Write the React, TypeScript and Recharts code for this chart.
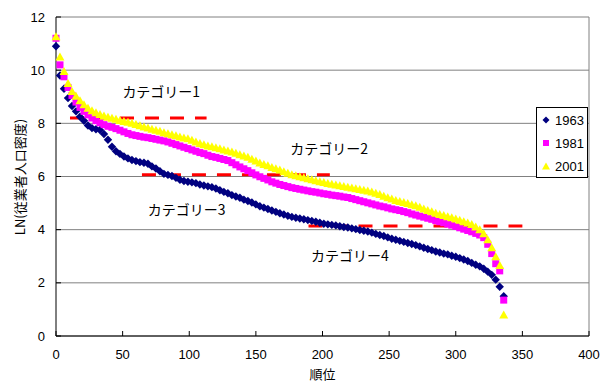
import { ScatterChart, Scatter, XAxis, YAxis, CartesianGrid, ReferenceLine, ReferenceDot, Legend, Label } from 'recharts';

// sampled every 3 ranks, starting at rank 0
const rankStep = 3;

const density1963 = [
  10.9, 9.8, 9.3, 8.95, 8.65, 8.45, 8.25, 8.1, 7.92, 7.82,
  7.78, 7.75, 7.6, 7.38, 7.12, 6.95, 6.85, 6.75, 6.68, 6.62,
  6.58, 6.54, 6.52, 6.48, 6.38, 6.3, 6.2, 6.1, 6.06, 6.02,
  5.95, 5.88, 5.83, 5.8, 5.78, 5.75, 5.7, 5.66, 5.63, 5.6,
  5.55, 5.48, 5.42, 5.37, 5.3, 5.25, 5.2, 5.13, 5.08, 5.02,
  4.95, 4.88, 4.83, 4.78, 4.72, 4.67, 4.62, 4.57, 4.52, 4.48,
  4.45, 4.42, 4.39, 4.36, 4.33, 4.3, 4.26, 4.22, 4.2, 4.18,
  4.16, 4.13, 4.1, 4.08, 4.05, 4.02, 3.99, 3.96, 3.93, 3.89,
  3.84, 3.8, 3.76, 3.71, 3.66, 3.62, 3.58, 3.54, 3.5, 3.46,
  3.42, 3.37, 3.32, 3.27, 3.23, 3.18, 3.14, 3.1, 3.07, 3.02,
  2.98, 2.93, 2.88, 2.82, 2.75, 2.68, 2.62, 2.53, 2.42, 2.3,
  2.12, 1.85, 1.5,
];

const density1981 = [
  11.2, 10.2, 9.75, 9.35, 9.05, 8.8, 8.6, 8.45, 8.32, 8.2,
  8.1, 8.02, 7.95, 7.89, 7.85, 7.8, 7.74, 7.68, 7.62, 7.57,
  7.54, 7.51, 7.48, 7.46, 7.43, 7.4, 7.37, 7.34, 7.3, 7.25,
  7.2, 7.15, 7.1, 7.05, 7.0, 6.95, 6.9, 6.86, 6.8, 6.75,
  6.72, 6.68, 6.64, 6.6, 6.52, 6.44, 6.36, 6.29, 6.22, 6.14,
  6.06, 5.99, 5.93, 5.87, 5.8, 5.75, 5.7, 5.66, 5.62, 5.58,
  5.55, 5.52, 5.49, 5.46, 5.43, 5.41, 5.38, 5.35, 5.33, 5.3,
  5.28, 5.26, 5.23, 5.21, 5.17, 5.13, 5.09, 5.05, 5.01, 4.97,
  4.93, 4.89, 4.86, 4.82, 4.78, 4.75, 4.72, 4.68, 4.64, 4.59,
  4.55, 4.51, 4.47, 4.43, 4.39, 4.34, 4.3, 4.26, 4.21, 4.17,
  4.12, 4.07, 4.02, 3.97, 3.92, 3.86, 3.8, 3.7, 3.45, 3.1,
  2.72, 2.45, 1.35,
];

const density2001 = [
  11.26, 10.5, 9.95, 9.5, 9.2, 9.02, 8.85, 8.7, 8.57, 8.47,
  8.4, 8.33, 8.28, 8.23, 8.19, 8.15, 8.11, 8.07, 8.04, 8.0,
  7.96, 7.91, 7.86, 7.82, 7.78, 7.74, 7.7, 7.65, 7.61, 7.57,
  7.53, 7.49, 7.45, 7.42, 7.36, 7.3, 7.24, 7.19, 7.15, 7.12,
  7.08, 7.04, 7.0, 6.96, 6.92, 6.87, 6.82, 6.77, 6.72, 6.65,
  6.58, 6.51, 6.45, 6.4, 6.34, 6.29, 6.24, 6.18, 6.12, 6.07,
  6.03, 5.99, 5.95, 5.92, 5.88, 5.84, 5.8, 5.77, 5.74, 5.71,
  5.68, 5.65, 5.62, 5.6, 5.57, 5.54, 5.51, 5.48, 5.45, 5.42,
  5.37, 5.32, 5.26, 5.2, 5.15, 5.1, 5.06, 5.02, 4.98, 4.94,
  4.9, 4.84, 4.78, 4.72, 4.67, 4.62, 4.57, 4.53, 4.49, 4.45,
  4.4, 4.35, 4.3, 4.25, 4.19, 4.1, 4.0, 3.85, 3.62, 3.32,
  2.98, 2.65, 0.79,
];

const xTicks = [0, 50, 100, 150, 200, 250, 300, 350, 400];
const yTicks = [0, 2, 4, 6, 8, 10, 12];

// category boundaries (red dashed lines)
const boundaryLevels = [8.2, 6.07, 4.14];
const boundaryFrom = [10.5, 64.5, 189.5];
const boundaryTo = [113, 205.5, 350];
const categoryNames = ['カテゴリー1', 'カテゴリー2', 'カテゴリー3', 'カテゴリー4'];

const toPoints = (values: number[]) => values.map((v, i) => ({ rank: i * rankStep, ln: v }));

const FONT = '"Liberation Sans", Arial, sans-serif';
const JP_FONT = '"Noto Sans CJK JP", sans-serif';

const Diamond = (props: any) => {
  const { cx, cy } = props;
  const r = 4.2;
  return <polygon points={`${cx},${cy - r} ${cx + r},${cy} ${cx},${cy + r} ${cx - r},${cy}`} fill="#000080" />;
};

const Square = (props: any) => {
  const { cx, cy } = props;
  return <rect x={cx - 3.5} y={cy - 3.5} width={7} height={7} fill="#FF00FF" />;
};

const Triangle = (props: any) => {
  const { cx, cy } = props;
  return <polygon points={`${cx},${cy - 4.5} ${cx + 4.5},${cy + 3.5} ${cx - 4.5},${cy + 3.5}`} fill="#FFFF00" />;
};

const legendIcons = [
  <polygon key="d" points="4,0.5 7.5,4 4,7.5 0.5,4" fill="#000080" />,
  <rect key="s" x={1} y={1} width={6} height={6} fill="#FF00FF" />,
  <polygon key="t" points="4,0.5 8,7.5 0,7.5" fill="#FFFF00" />,
];

const years = ['1963', '1981', '2001'];

const LegendBox = () => (
  <div
    style={{
      position: 'relative',
      width: 52,
      height: 71,
      boxSizing: 'border-box',
      border: '1px solid #000',
      background: '#fff',
      fontFamily: FONT,
      fontSize: 13,
    }}
  >
    {years.map((yr, i) => (
      <div key={yr} style={{ position: 'absolute', left: 5, top: 4 + i * 23, height: 16, display: 'flex', alignItems: 'center' }}>
        <svg width={8} height={8} style={{ marginRight: 5 }}>{legendIcons[i]}</svg>
        <span>{yr}</span>
      </div>
    ))}
  </div>
);

export default function App() {
  const labelPos = [
    { x: 79, y: 9.18 },
    { x: 205, y: 7.03 },
    { x: 98, y: 4.74 },
    { x: 220.5, y: 3.01 },
  ];
  return (
    <ScatterChart width={600} height={375} margin={{ top: 9, right: 19, bottom: 17, left: 0 }}>
      <CartesianGrid vertical={false} stroke="#808080" />
      <XAxis
        type="number"
        dataKey="rank"
        domain={[0, 400]}
        ticks={xTicks}
        height={30}
        stroke="#000"
        tickSize={-5}
        tickMargin={19}
        tick={{ fontSize: 13, fill: '#000', fontFamily: FONT }}
      >
        <Label value="順位" position="bottom" offset={4} fontSize={13} fill="#000" fontFamily={JP_FONT} />
      </XAxis>
      <YAxis
        type="number"
        dataKey="ln"
        domain={[0, 12]}
        ticks={yTicks}
        width={48}
        stroke="#000"
        tickSize={-5}
        tickMargin={16}
        tick={{ fontSize: 13, fill: '#000', fontFamily: FONT }}
        label={{
          content: () => (
            <text x={11} y={169} transform="rotate(-90 11 169)" textAnchor="middle" dominantBaseline="central" fontSize={13} fill="#000" fontFamily={JP_FONT}>
              LN(従業者人口密度)
            </text>
          ),
        }}
      />
      <ReferenceLine x={400} stroke="#808080" />
      <Scatter name="1963" data={toPoints(density1963)} shape={Diamond} isAnimationActive={false} />
      <Scatter name="1981" data={toPoints(density1981)} shape={Square} isAnimationActive={false} />
      <Scatter name="2001" data={toPoints(density2001)} shape={Triangle} isAnimationActive={false} />
      {boundaryLevels.map((lv, i) => (
        <ReferenceLine
          key={i}
          segment={[{ x: boundaryFrom[i], y: lv }, { x: boundaryTo[i], y: lv }]}
          stroke="#FF0000"
          strokeWidth={3}
          strokeDasharray="14 11"
        />
      ))}
      {categoryNames.map((name, i) => (
        <ReferenceDot
          key={name}
          x={labelPos[i].x}
          y={labelPos[i].y}
          r={0}
          fill="none"
          stroke="none"
          label={{ value: name, position: 'center', fontSize: 14, fill: '#000', fontFamily: JP_FONT }}
        />
      ))}
      <Legend
        layout="horizontal"
        verticalAlign="middle"
        align="center"
        content={() => <LegendBox />}
        wrapperStyle={{ position: 'absolute', left: 528, top: 99, width: 52, height: 71 }}
      />
    </ScatterChart>
  );
}
